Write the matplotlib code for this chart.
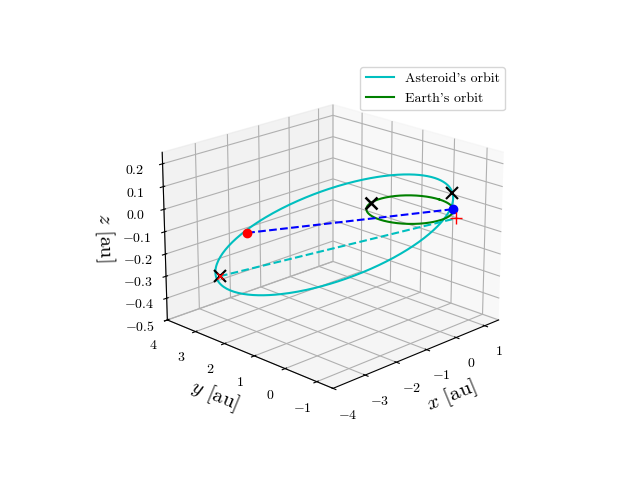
import numpy as np
import matplotlib
matplotlib.use("Agg")
import matplotlib.pyplot as plt

plt.rcParams['mathtext.fontset'] = 'cm'
plt.rcParams['font.family'] = 'serif'
plt.rcParams['font.serif'] = ['cmr10']
plt.rcParams['axes.formatter.use_mathtext'] = True

# orbital elements (au, deg)
ast_a, ast_e, ast_inc, ast_peri_lon, ast_node = 2.75, 0.64, 4.0, -45.0, -105.0
earth_r = 1.0

# marker positions (au)
ast_now = (-2.7, 2.6, -0.1)
earth_now = (0.72, -0.7, 0.0)
ast_far = (-3.3, 2.9, -0.28)
earth_far = (0.75, -0.75, -0.04)
cross_mid = (-0.3, 0.95, 0.0)
cross_top = (0.72, -0.65, 0.07)

nu = np.linspace(0, 2*np.pi, 400)
r = ast_a*(1-ast_e**2)/(1+ast_e*np.cos(nu))
w = np.radians(ast_peri_lon - ast_node); O = np.radians(ast_node); i = np.radians(ast_inc)
xo, yo = r*np.cos(nu+w), r*np.sin(nu+w)
ax_ = xo*np.cos(O) - yo*np.cos(i)*np.sin(O)
ay_ = xo*np.sin(O) + yo*np.cos(i)*np.cos(O)
az_ = yo*np.sin(i)
ex, ey = earth_r*np.cos(nu), earth_r*np.sin(nu)

fig = plt.figure(figsize=(6.4, 4.8))
ax = fig.add_subplot(projection='3d')
ax.view_init(elev=20, azim=-135)
ax.plot(ax_, ay_, az_, 'c', label="Asteroid's orbit")
ax.plot(ex, ey, 0*ex, 'g', label="Earth's orbit")
ax.plot(*zip(ast_now, earth_now), 'b--')
ax.plot(*zip(ast_far, earth_far), 'c--')
ax.plot(*[[v] for v in ast_now], 'ro')
ax.plot(*[[v] for v in earth_now], 'bo')
ax.plot(*[[v] for v in ast_far], 'kx', ms=8, mew=1.5)
ax.plot(*[[v] for v in ast_far], 'rx', ms=5)
ax.plot(*[[v] for v in earth_far], 'r+', ms=8)
ax.plot(*[[v] for v in cross_mid], 'kx', ms=8, mew=1.8)
ax.plot(*[[v] for v in cross_top], 'kx', ms=8, mew=1.5)
ax.set_xlim(-4, 1.5); ax.set_ylim(-1.5, 4); ax.set_zlim(-0.5, 0.25)
ax.set_xticks([-4, -3, -2, -1, 0, 1]); ax.set_yticks([-1, 0, 1, 2, 3, 4])
ax.set_zticks([-0.5, -0.4, -0.3, -0.2, -0.1, 0.0, 0.1, 0.2])
ax.set_xlabel(r'$x$ [au]', fontsize=15)
ax.set_ylabel(r'$y$ [au]', fontsize=15)
ax.set_zlabel(r'$z$ [au]', fontsize=15)
ax.legend(loc='upper right', bbox_to_anchor=(0.8, 0.875), bbox_transform=fig.transFigure)
fig.savefig('out.png', dpi=100)
